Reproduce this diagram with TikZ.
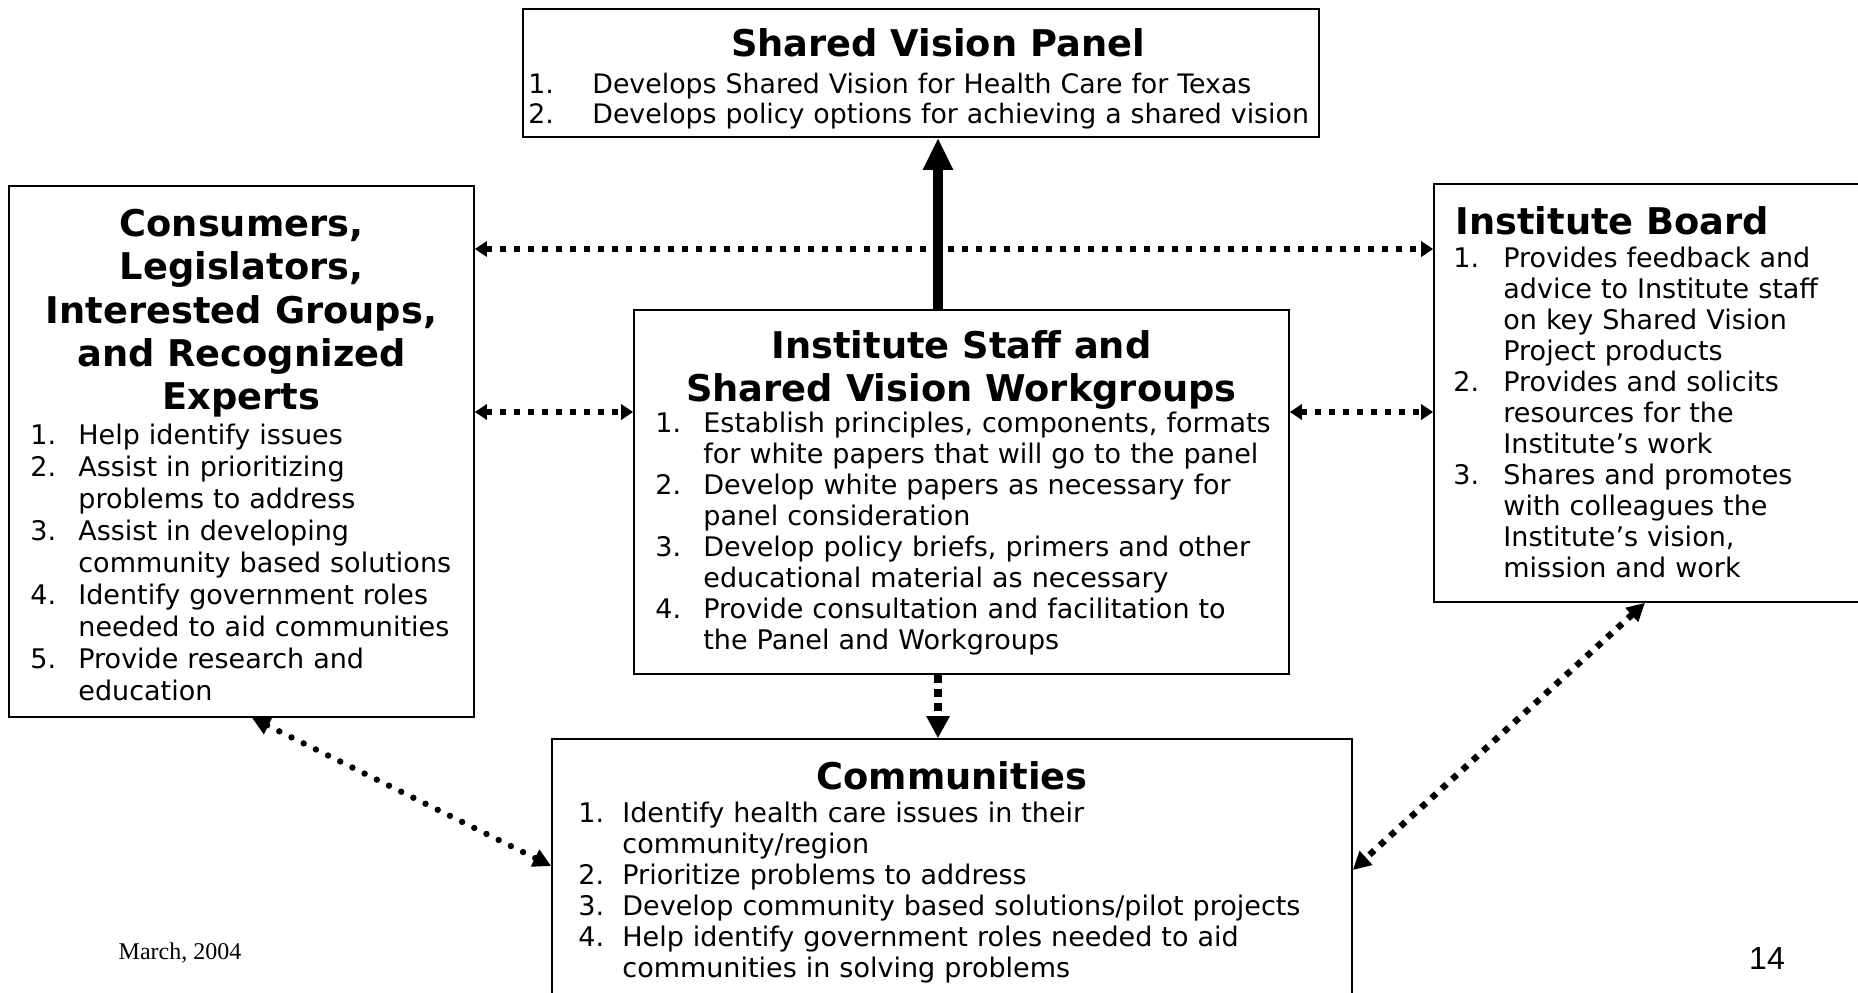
\documentclass[tikz,border=0pt]{standalone}
\usepackage{fontspec}
\setmainfont{DejaVu Sans}
\newfontfamily\pagefont{Liberation Sans}
\newfontfamily\datefont{Liberation Serif}
\usetikzlibrary{arrows.meta}

\newlength{\numw}
\newcommand{\entry}[2]{\par\hangindent=\numw\hangafter=1\noindent\hbox to\numw{#1.\hfil}#2\par}

\tikzset{
  box/.style={draw, line width=0.8pt, inner sep=0pt},
  heading/.style={inner sep=0pt, align=center, font=\bfseries\fontsize{18.4}{21.6}\selectfont},
  items/.style={anchor=north west, inner sep=0pt, text width=420pt, align=left,
    font=\fontsize{13.5}{15.5}\selectfont, execute at begin node={\setlength{\numw}{#1}}},
  hd/.tip={Triangle[length=6pt,width=7.5pt]},
  dhd/.tip={Triangle[length=9pt,width=9pt]},
  dotarrow/.style={hd-hd, line width=2.6pt, dash pattern=on 3pt off 4pt},
  rounddots/.style={dhd-dhd, line width=3.2pt, line cap=round, dash pattern=on 0pt off 6.8pt},
  squaredots/.style={dhd-dhd, line width=3.2pt, dash pattern=on 3.2pt off 3.8pt},
  bigarrow/.style={-{Triangle[length=16pt,width=14pt]}, line width=4.6pt}
}

\begin{document}
\begin{tikzpicture}[x=0.5pt, y=-0.5pt]
\useasboundingbox (0,0) rectangle (1858,992);
\clip (0,0) rectangle (1858,992);

% boxes
\node[box, minimum width=398pt, minimum height=64pt] (panel) at (921,73) {};
\node[box, minimum width=232.5pt, minimum height=265.5pt] (public) at (241.5,451.5) {};
\node[box, minimum width=327.5pt, minimum height=182pt] (staff) at (961.5,492) {};
\node[box, minimum width=220pt, minimum height=209pt] (board) at (1654,393) {};
\node[box, minimum width=400pt, minimum height=140pt] (comm) at (952,879) {};

% Shared Vision Panel
\node[heading, anchor=north] (panel head) at (938,28) {Shared Vision Panel};
\node[items=32pt, font=\fontsize{13.4}{15}\selectfont] (panel list) at (528,63) {
  \entry{1}{Develops Shared Vision for Health Care for Texas}
  \entry{2}{Develops policy options for achieving a shared vision}};

% Consumers etc.
\node[heading, anchor=north] (public head) at (241.5,209)
  {Consumers,\\Legislators,\\Interested Groups,\\and Recognized\\Experts};
\node[items=24pt, font=\fontsize{13.5}{16}\selectfont] (public list) at (30,412) {
  \entry{1}{Help identify issues}
  \entry{2}{Assist in prioritizing\newline problems to address}
  \entry{3}{Assist in developing\newline community based solutions}
  \entry{4}{Identify government roles\newline needed to aid communities}
  \entry{5}{Provide research and\newline education}};

% Institute staff
\node[heading, anchor=north] (staff head) at (961.5,330) {Institute Staff and\\Shared Vision Workgroups};
\node[items=24pt] (staff list) at (655,401) {
  \entry{1}{Establish principles, components, formats\newline for white papers that will go to the panel}
  \entry{2}{Develop white papers as necessary for\newline panel consideration}
  \entry{3}{Develop policy briefs, primers and other\newline educational material as necessary}
  \entry{4}{Provide consultation and facilitation to\newline the Panel and Workgroups}};

% Institute Board
\node[heading, anchor=north west] (board head) at (1455,206) {Institute Board};
\node[items=25pt] (board list) at (1453,236) {
  \entry{1}{Provides feedback and\newline advice to Institute staff\newline on key Shared Vision\newline Project products}
  \entry{2}{Provides and solicits\newline resources for the\newline Institute’s work}
  \entry{3}{Shares and promotes\newline with colleagues the\newline Institute’s vision,\newline mission and work}};

% Communities
\node[heading, anchor=north] (comm head) at (952,761) {Communities};
\node[items=22pt] (comm list) at (578,791) {
  \entry{1}{Identify health care issues in their\newline community/region}
  \entry{2}{Prioritize problems to address}
  \entry{3}{Develop community based solutions/pilot projects}
  \entry{4}{Help identify government roles needed to aid\newline communities in solving problems}};

% footer
\node[font=\datefont\fontsize{12}{14}\selectfont] (date) at (180,953) {March, 2004};
\node[font=\pagefont\fontsize{16}{18}\selectfont] (page) at (1767,958) {14};

% connectors
\coordinate (mid) at (938,0);
\coordinate (upper) at (0,249);
\coordinate (lower) at (0,412);
\coordinate (pl) at (252,0);
\coordinate (cl) at (0,866);
\coordinate (br) at (1645,0);
\coordinate (cr) at (0,870);
\draw[bigarrow] (staff.north -| mid) -- (panel.south -| mid);
\draw[dotarrow] (public.east |- upper) -- (board.west |- upper);
\draw[dotarrow] (public.east |- lower) -- (staff.west |- lower);
\draw[dotarrow] (staff.east |- lower) -- (board.west |- lower);
\draw[-{Triangle[length=11pt,width=11pt]}, line width=4pt, dash pattern=on 4pt off 3pt]
  (staff.south -| mid) -- (comm.north -| mid);
\draw[rounddots] (public.south -| pl) -- (comm.west |- cl);
\draw[squaredots] (board.south -| br) -- (comm.east |- cr);

\end{tikzpicture}
\end{document}
